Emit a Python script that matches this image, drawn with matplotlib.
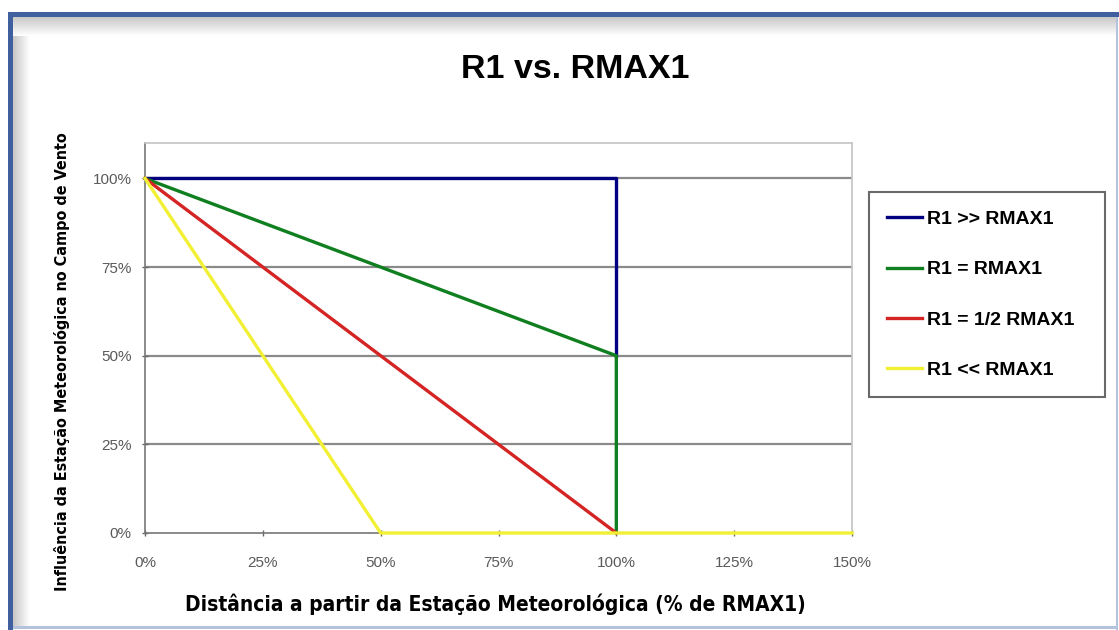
import numpy as np
import matplotlib
matplotlib.use("Agg")
import matplotlib.pyplot as plt
from matplotlib import font_manager
from matplotlib.patches import Rectangle
from matplotlib.ticker import FuncFormatter

# series data (distance % of RMAX1 -> influence %)
x_much_larger = [0, 100, 100]
y_much_larger = [100, 100, 50]
x_equal = [0, 100, 100]
y_equal = [100, 50, 0]
x_half = [0, 100]
y_half = [100, 0]
x_much_smaller = [0, 50, 150]
y_much_smaller = [100, 0, 0]

labels = ["R1 >> RMAX1", "R1 = RMAX1", "R1 = 1/2 RMAX1", "R1 << RMAX1"]
colors = ["#000080", "#0f7f1f", "#d42424", "#f2f034"]
x_ticks = [0, 25, 50, 75, 100, 125, 150]
y_ticks = [0, 25, 50, 75, 100]

names = {f.name for f in font_manager.fontManager.ttflist}
narrow = "Liberation Sans Narrow" if "Liberation Sans Narrow" in names else "DejaVu Sans"
plt.rcParams["font.family"] = ["Liberation Sans", "DejaVu Sans"]

W, H = 1119, 630
fig = plt.figure(figsize=(W / 100, H / 100), dpi=100)
fig.patch.set_facecolor("white")

# frame decoration (pixel coordinates)
bg = fig.add_axes([0, 0, 1, 1], zorder=-5)
bg.axis("off")
grad = np.linspace(0.78, 1.0, 50)
bg.imshow(grad[None, :], cmap="gray", vmin=0, vmax=1, extent=(13, 30, H - 4, 17),
          aspect="auto", interpolation="bilinear")
bg.imshow(grad[:, None], cmap="gray", vmin=0, vmax=1, extent=(13, W - 3, 36, 17),
          aspect="auto", interpolation="bilinear")
bg.add_patch(Rectangle((8, 12), W - 8, 5, color="#3f5f9f", lw=0))
bg.add_patch(Rectangle((8, 12), 5, H - 12, color="#3f5f9f", lw=0))
bg.add_patch(Rectangle((W - 3, 17), 2, H - 17, color="#b4c2de", lw=0))
bg.add_patch(Rectangle((13, H - 4), W - 16, 3, color="#b4c2de", lw=0))
bg.set_xlim(0, W)
bg.set_ylim(H, 0)

ax = fig.add_axes([145 / W, 1 - 533 / H, (852 - 145) / W, (533 - 143) / H])
series = [(x_much_larger, y_much_larger), (x_equal, y_equal),
          (x_half, y_half), (x_much_smaller, y_much_smaller)]
for (xs, ys), c, lab in zip(series, colors, labels):
    ax.plot(xs, ys, color=c, lw=2.4, label=lab, clip_on=False, zorder=3)

ax.set_xlim(0, 150)
ax.set_ylim(0, 110)
ax.set_xticks(x_ticks)
ax.set_yticks(y_ticks)
pct = FuncFormatter(lambda v, p: f"{v:.0f}%")
ax.xaxis.set_major_formatter(pct)
ax.yaxis.set_major_formatter(pct)
ax.tick_params(direction="inout", length=5, width=1, color="#666666",
               labelcolor="#5a5a5a", labelsize=11)
ax.tick_params(axis="x", pad=14)
ax.tick_params(axis="y", pad=7)
for y in y_ticks[1:]:
    ax.axhline(y, color="#8a8a8a", lw=1.6, zorder=1)
ax.spines["left"].set_color("#777777")
ax.spines["bottom"].set_color("#777777")
ax.spines["top"].set_color("#c4c4c4")
ax.spines["right"].set_color("#c4c4c4")
for s in ax.spines.values():
    s.set_linewidth(1.2)

fig.text(575 / W, 1 - 70 / H, "R1 vs. RMAX1", ha="center", va="center",
         fontsize=24.5, fontweight="bold")
fig.text(495 / W, 1 - 604 / H, "Distância a partir da Estação Meteorológica (% de RMAX1)",
         ha="center", va="center", fontsize=15, fontweight="bold",
         family=narrow, fontstretch="condensed")
fig.text(62 / W, 1 - 362 / H, "Influência da Estação Meteorológica no Campo de Vento",
         ha="center", va="center", rotation=90, fontsize=11.5, fontweight="bold",
         family=narrow, fontstretch="condensed")

leg = ax.legend(loc="upper left",
                bbox_to_anchor=(869 / W, 1 - 192 / H - 0.01, (1105 - 869) / W, 0.01),
                bbox_transform=fig.transFigure, mode="expand", borderaxespad=0,
                frameon=True, fancybox=False, edgecolor="#444444",
                prop={"weight": "bold", "size": 14}, handlelength=1.8,
                handletextpad=0.25, labelspacing=1.68, borderpad=0.95)
leg.get_frame().set_linewidth(1.5)

fig.savefig("out.png", dpi=100)
